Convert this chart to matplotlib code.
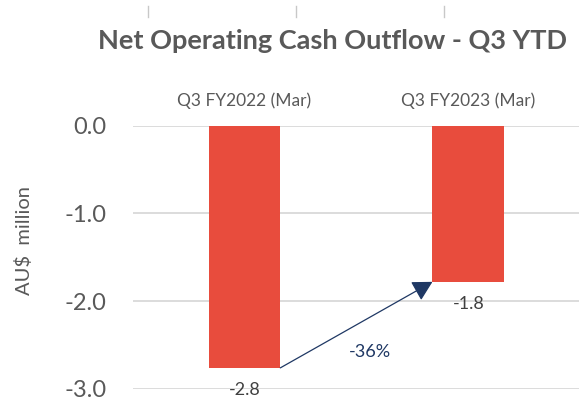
import matplotlib
matplotlib.use('Agg')
import matplotlib.pyplot as plt
from matplotlib.lines import Line2D

plt.rcParams['font.family'] = ['Lato', 'DejaVu Sans']

periods = ['Q3 FY2022 (Mar)', 'Q3 FY2023 (Mar)']
outflow = [-2.76, -1.78]
yticks = [0.0, -1.0, -2.0, -3.0]

grey = '#595959'
red = '#E84C3D'
navy = '#1F3864'
w = 0.32

fig = plt.figure(figsize=(5.79, 4.01), dpi=100)
ax = fig.add_axes([0.229, 0.030, 0.773, 0.657])

x = range(len(periods))
ax.bar(x, outflow, width=w, color=red, zorder=3)

ax.set_xlim(-0.5, 1.5)
ax.set_ylim(-3.0, 0.0)
ax.set_yticks(yticks)
ax.set_yticklabels(['%.1f' % t for t in yticks])
ax.yaxis.grid(True, color='#D9D9D9', lw=1.3, zorder=0)
ax.tick_params(axis='y', length=0, pad=19, labelsize=17, labelcolor=grey)

ax.xaxis.tick_top()
ax.set_xticks(list(x))
ax.set_xticklabels(periods)
ax.tick_params(axis='x', length=0, pad=12, labelsize=12.5, labelcolor=grey)

for s in ax.spines.values():
    s.set_visible(False)

# value labels under the bars
for i, v in enumerate(outflow):
    ax.annotate('%.1f' % v, xy=(i, v), xytext=(0, -16), textcoords='offset points',
                ha='center', va='center', fontsize=13, color='#404040',
                annotation_clip=False, zorder=4)

# change arrow
ax.annotate('', xy=(1 - w / 2, outflow[1]), xytext=(0 + w / 2, outflow[0]),
            arrowprops=dict(arrowstyle='-|>,head_length=0.55,head_width=0.3',
                            color=navy, lw=0.9, mutation_scale=22,
                            shrinkA=0, shrinkB=0),
            zorder=5)
pct = (abs(outflow[1]) - abs(outflow[0])) / abs(outflow[0])
ax.text(0.56, -2.58, '%d%%' % round(pct * 100), ha='center', va='center',
        fontsize=13, color=navy)

fig.text(0.575, 0.897, 'Net Operating Cash Outflow - Q3 YTD', ha='center', va='center',
         fontsize=19.5, fontweight='bold', color=grey)
fig.text(0.041, 0.40, 'AU$  million', rotation=90, ha='center', va='center',
         fontsize=14.5, color=grey)

# small marks at the top edge
for px in [148, 296, 444]:
    fig.add_artist(Line2D([px / 579, px / 579], [1 - 6 / 401, 1 - 17 / 401],
                          color='#C8C8C8', lw=1))

fig.savefig('out.png', dpi=100)
